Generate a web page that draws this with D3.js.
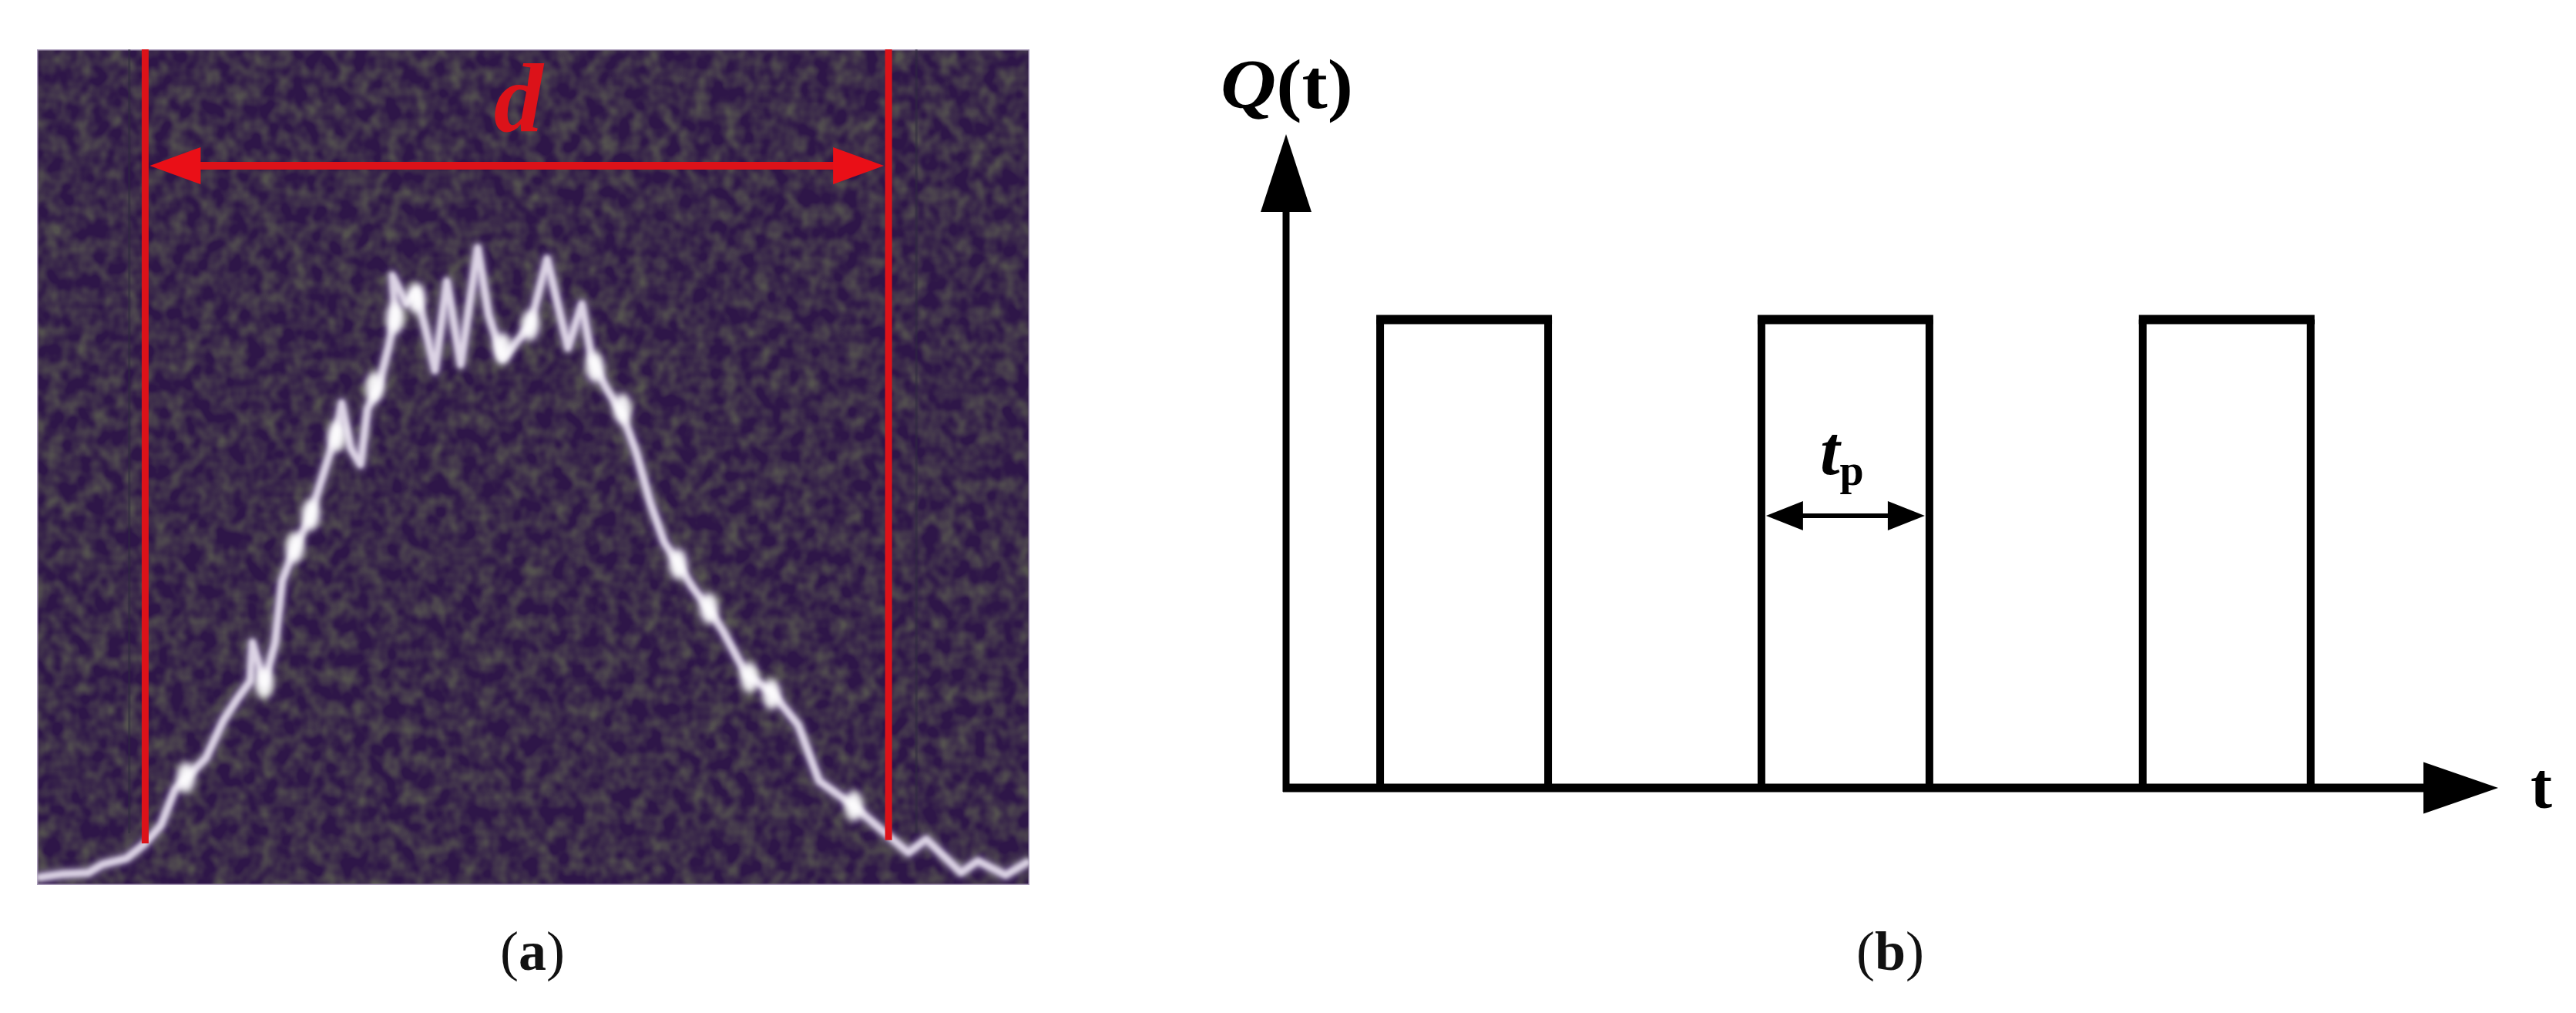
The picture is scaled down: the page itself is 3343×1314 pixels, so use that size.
<!DOCTYPE html>
<html lang="en">
<head>
    <meta charset="UTF-8">
    <title>Beam profile and pulse train</title>
    <script src="https://cdn.jsdelivr.net/npm/d3@7"></script>
    <style>
        body { margin: 0; background: #fff; }
        svg { display: block; }
        text { font-family: "Liberation Serif", serif; }
    </style>
</head>
<body>
    <div id="chart"></div>
    <script>
        // (a) beam trace, both in percent of the picture
        const tracePos = [0, 2.4, 5.2, 6.6, 9.0, 10.8, 12.5, 13.9, 15.3, 17.0, 18.8, 20.1, 21.5, 21.7, 22.9, 24.0, 24.7, 26.0, 27.4, 28.8, 30.2, 30.7, 31.6, 32.6, 33.3, 34.4, 35.4, 36.1, 35.8, 37.2, 38.2, 39.2, 40.1, 41.3, 42.7, 44.4, 45.5, 46.9, 49.7, 51.4, 53.5, 54.9, 55.9, 57.3, 59.0, 60.4, 61.8, 63.2, 64.6, 66.0, 67.7, 69.1, 71.5, 74.0, 76.7, 78.8, 82.3, 85.8, 87.8, 89.6, 93.1, 94.8, 97.6, 100];
        const traceVal = [0.7, 1.1, 1.3, 2.3, 3.0, 4.7, 7.0, 11.3, 13.0, 15.0, 19.6, 22.0, 24.3, 28.9, 24.0, 28.9, 36.3, 40.3, 43.6, 48.9, 54.2, 57.6, 52.2, 50.2, 56.9, 59.5, 64.2, 68.2, 72.9, 69.5, 70.9, 66.2, 61.5, 72.2, 62.2, 76.2, 68.2, 62.9, 66.9, 74.9, 64.2, 69.5, 62.9, 59.5, 56.2, 51.6, 45.6, 40.9, 38.3, 35.6, 32.9, 30.3, 25.0, 23.0, 19.0, 12.3, 9.3, 5.7, 3.7, 5.3, 1.3, 2.7, 1.0, 2.7];
        // brightest spots on the trace
        const spotPos = [15.0, 22.9, 26.0, 27.6, 30.2, 34.0, 36.1, 38.2, 46.9, 49.7, 56.2, 59.0, 64.6, 67.7, 71.8, 74.0, 82.3];
        const spotVal = [12.7, 24.0, 40.3, 44.2, 53.6, 59.5, 67.8, 70.2, 64.2, 66.9, 61.9, 56.9, 38.3, 33.0, 24.7, 22.7, 9.3];
        // width marker d
        const markerPos = [10.9, 85.8];
        const markerBase = [4.8, 5.2];
        const markerLabel = "d";
        // faint scanner ghosts next to the marker lines
        const ghostPos = [9.3, 88.6];

        // (b) pulse train, t in units of tp
        const pulseStart = [0.56, 2.83, 5.10];
        const pulseEnd = [1.56, 3.83, 6.10];
        const pulseHigh = 1;
        const tMax = 7.216;
        const qMax = 1.396;
        const panelLabels = ["a", "b"];

        const width = 3343;
        const height = 1314;
        const redColor = "#dc1219";

        const svg = d3.select("#chart").append("svg")
            .attr("width", width)
            .attr("height", height)
            .style("background", "#fff");

        const defs = svg.append("defs");

        const noise = defs.append("filter").attr("id", "noise")
            .attr("color-interpolation-filters", "sRGB")
            .attr("x", 0).attr("y", 0).attr("width", 1).attr("height", 1);
        noise.append("feTurbulence")
            .attr("type", "fractalNoise")
            .attr("baseFrequency", "0.05 0.045")
            .attr("numOctaves", 2)
            .attr("seed", 7);
        noise.append("feColorMatrix")
            .attr("type", "matrix")
            .attr("values", "0 0 0 0 0.33  0 0 0 0 0.32  0 0 0 0 0.31  1.9 0 0 0 -0.62");

        defs.append("filter").attr("id", "glow")
            .attr("x", "-10%").attr("y", "-10%").attr("width", "120%").attr("height", "120%")
            .append("feGaussianBlur").attr("stdDeviation", 4);
        defs.append("filter").attr("id", "soft")
            .attr("x", "-10%").attr("y", "-10%").attr("width", "120%").attr("height", "120%")
            .append("feGaussianBlur").attr("stdDeviation", 2.6);
        defs.append("filter").attr("id", "spot-blur")
            .attr("x", "-80%").attr("y", "-80%").attr("width", "260%").attr("height", "260%")
            .append("feGaussianBlur").attr("stdDeviation", 5);

        defs.append("clipPath").attr("id", "panel-clip")
            .append("rect").attr("x", 48).attr("y", 64).attr("width", 1288).attr("height", 1084);

        // ---- panel (a) ----
        const xA = d3.scaleLinear().domain([0, 100]).range([48, 1336]);
        const yA = d3.scaleLinear().domain([0, 100]).range([1146, 64]);

        const panelA = svg.append("g").attr("clip-path", "url(#panel-clip)");
        panelA.append("rect")
            .attr("x", 48).attr("y", 64).attr("width", 1288).attr("height", 1084)
            .attr("fill", "#2e1648");
        panelA.append("rect")
            .attr("x", 48).attr("y", 64).attr("width", 1288).attr("height", 1084)
            .attr("filter", "url(#noise)");
        panelA.append("rect")
            .attr("x", 48).attr("y", 64).attr("width", 1288).attr("height", 1084)
            .attr("fill", "none")
            .attr("stroke", "#a99bb8")
            .attr("stroke-width", 3);

        panelA.selectAll(".ghost").data(ghostPos).enter().append("line")
            .attr("class", "ghost")
            .attr("x1", d => xA(d)).attr("x2", d => xA(d))
            .attr("y1", yA(100)).attr("y2", yA(6))
            .attr("stroke", "#2c2a3c")
            .attr("stroke-opacity", 0.5)
            .attr("stroke-width", 3);

        const traceLine = d3.line()
            .x((d, i) => xA(tracePos[i]))
            .y((d, i) => yA(d))
            .curve(d3.curveLinear);

        panelA.append("path").datum(traceVal)
            .attr("d", traceLine)
            .attr("fill", "none")
            .attr("stroke", "#9a8bae")
            .attr("stroke-width", 13)
            .attr("stroke-linejoin", "round")
            .attr("filter", "url(#glow)");
        panelA.append("path").datum(traceVal)
            .attr("d", traceLine)
            .attr("fill", "none")
            .attr("stroke", "#dcd3e4")
            .attr("stroke-width", 8)
            .attr("stroke-linejoin", "round")
            .attr("filter", "url(#soft)");
        panelA.selectAll(".spot").data(spotVal).enter().append("ellipse")
            .attr("class", "spot")
            .attr("cx", (d, i) => xA(spotPos[i]))
            .attr("cy", d => yA(d))
            .attr("rx", 12)
            .attr("ry", 20)
            .attr("fill", "#fff")
            .attr("fill-opacity", 0.92)
            .attr("filter", "url(#spot-blur)");

        // red marker lines, each stops where it meets the trace
        const markerY = 215;
        panelA.selectAll(".marker").data(markerPos).enter().append("line")
            .attr("class", "marker")
            .attr("x1", d => xA(d)).attr("x2", d => xA(d))
            .attr("y1", yA(100))
            .attr("y2", (d, i) => yA(markerBase[i]))
            .attr("stroke", redColor)
            .attr("stroke-width", 9);
        panelA.append("line")
            .attr("x1", xA(markerPos[0]) + 40).attr("x2", xA(markerPos[1]) - 40)
            .attr("y1", markerY).attr("y2", markerY)
            .attr("stroke", redColor)
            .attr("stroke-width", 10);
        drawHead(panelA, xA(markerPos[0]) + 6, markerY, 1, 66, 48, "#ea0f17");
        drawHead(panelA, xA(markerPos[1]) - 6, markerY, -1, 66, 48, "#ea0f17");

        svg.append("text")
            .attr("x", (xA(markerPos[0]) + xA(markerPos[1])) / 2 + 2)
            .attr("y", 170)
            .attr("text-anchor", "middle")
            .attr("fill", redColor)
            .style("font-size", "128px")
            .style("font-style", "italic")
            .style("font-weight", "bold")
            .text(markerLabel);

        // ---- panel (b) ----
        const xB = d3.scaleLinear().domain([0, tMax]).range([1669, 3242]);
        const yB = d3.scaleLinear().domain([0, qMax]).range([1022, 174]);
        const lineColor = "#000";

        const panelB = svg.append("g");

        pulseStart.forEach(function(s, i) {
            const e = pulseEnd[i];
            panelB.append("line")
                .attr("x1", xB(s)).attr("x2", xB(s))
                .attr("y1", yB(0)).attr("y2", yB(pulseHigh))
                .attr("stroke", lineColor).attr("stroke-width", 10);
            panelB.append("line")
                .attr("x1", xB(e)).attr("x2", xB(e))
                .attr("y1", yB(0)).attr("y2", yB(pulseHigh))
                .attr("stroke", lineColor).attr("stroke-width", 10);
            panelB.append("line")
                .attr("x1", xB(s) - 5).attr("x2", xB(e) + 5)
                .attr("y1", yB(pulseHigh)).attr("y2", yB(pulseHigh))
                .attr("stroke", lineColor).attr("stroke-width", 12);
        });

        // axes
        panelB.append("line")
            .attr("x1", xB(0)).attr("x2", xB(0))
            .attr("y1", yB(0) + 5).attr("y2", yB(qMax) + 90)
            .attr("stroke", lineColor).attr("stroke-width", 9);
        panelB.append("line")
            .attr("x1", xB(0) - 4).attr("x2", xB(tMax) - 90)
            .attr("y1", yB(0)).attr("y2", yB(0))
            .attr("stroke", lineColor).attr("stroke-width", 11);
        panelB.append("path")
            .attr("d", d3.line()([[xB(0), yB(qMax)], [xB(0) - 33, yB(qMax) + 101], [xB(0) + 33, yB(qMax) + 101]]) + "Z")
            .attr("fill", lineColor);
        drawHead(panelB, xB(tMax), yB(0), -1, 97, 67, lineColor);

        // tp width arrow on the middle pulse
        const tpY = 669;
        panelB.append("line")
            .attr("x1", xB(pulseStart[1]) + 30).attr("x2", xB(pulseEnd[1]) - 30)
            .attr("y1", tpY).attr("y2", tpY)
            .attr("stroke", lineColor).attr("stroke-width", 6);
        drawHead(panelB, xB(pulseStart[1]) + 6, tpY, 1, 48, 38, lineColor);
        drawHead(panelB, xB(pulseEnd[1]) - 6, tpY, -1, 48, 38, lineColor);

        // labels
        const qLabel = svg.append("text").attr("x", 1584).attr("y", 140)
            .attr("textLength", 172)
            .attr("lengthAdjust", "spacingAndGlyphs")
            .style("font-size", "92px").style("font-weight", "bold");
        qLabel.append("tspan").style("font-style", "italic").text("Q");
        qLabel.append("tspan").text("(t)");

        svg.append("text").attr("x", 3284).attr("y", 1048)
            .style("font-size", "84px").style("font-weight", "bold").text("t");

        const tpLabel = svg.append("text").attr("x", 2362).attr("y", 615)
            .style("font-size", "92px").style("font-weight", "bold");
        tpLabel.append("tspan").style("font-style", "italic").text("t");
        tpLabel.append("tspan").attr("dy", 14).style("font-size", "56px").text("p");

        const labelX = [691, 2453];
        panelLabels.forEach(function(l, i) {
            const t = svg.append("text").attr("x", labelX[i]).attr("y", 1258)
                .attr("text-anchor", "middle")
                .attr("fill", "#111")
                .style("font-size", "72px");
            t.append("tspan").text("(");
            t.append("tspan").style("font-weight", "bold").text(l);
            t.append("tspan").text(")");
        });

        // horizontal arrow head, dir 1 points left, -1 points right
        function drawHead(g, tipX, tipY, dir, len, h, color) {
            g.append("path")
                .attr("d", d3.line()([[tipX, tipY], [tipX + dir * len, tipY - h / 2], [tipX + dir * len, tipY + h / 2]]) + "Z")
                .attr("fill", color);
        }
    </script>
</body>
</html>
